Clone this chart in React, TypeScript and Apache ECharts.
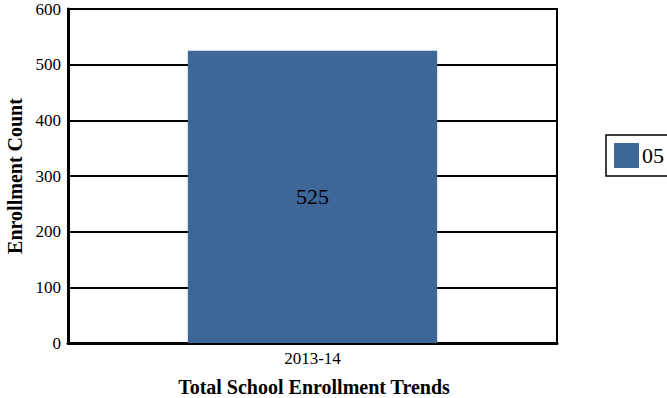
import React, { useEffect, useRef } from "react";
import * as echarts from "echarts";

const categories = ["2013-14"];
const seriesName = "05";
const values = [525];
const yTicks = { min: 0, max: 600, interval: 100 };

const FONT = "Liberation Serif";

export default function App() {
  const ref = useRef<HTMLDivElement>(null);
  useEffect(() => {
    if (!ref.current) return;
    const chart = echarts.init(ref.current, null, { renderer: "svg" });
    chart.setOption({
      animation: false,
      textStyle: { fontFamily: FONT, color: "#000" },
      title: {
        text: "Total School Enrollment Trends",
        left: 309,
        textAlign: "center",
        top: 372,
        textStyle: { fontFamily: FONT, fontSize: 20, fontWeight: "bold", color: "#000" },
      },
      legend: {
        data: [seriesName],
        left: 606,
        top: 135,
        orient: "vertical",
        icon: "rect",
        itemWidth: 25,
        itemHeight: 25,
        itemGap: 0,
        padding: [8, 30, 8, 8],
        borderColor: "#000",
        borderWidth: 1.5,
        textStyle: { fontFamily: FONT, fontSize: 22, color: "#000", padding: [0, 0, 0, -2] },
      },
      grid: {
        left: 68,
        right: 110,
        top: 9,
        bottom: 55,
        outerBoundsMode: "none",
        containLabel: false,
        show: true,
        borderColor: "#000",
        borderWidth: 2,
      },
      xAxis: {
        type: "category",
        data: categories,
        axisLine: { show: true, lineStyle: { color: "#000", width: 3 } },
        axisTick: { show: false },
        axisLabel: { fontFamily: FONT, fontSize: 17, color: "#000", margin: 7 },
      },
      yAxis: {
        type: "value",
        min: yTicks.min,
        max: yTicks.max,
        interval: yTicks.interval,
        name: "Enrollment Count",
        nameLocation: "middle",
        nameGap: 41,
        nameTextStyle: { fontFamily: FONT, fontSize: 20, fontWeight: "bold", color: "#000" },
        axisLine: { show: true, lineStyle: { color: "#000", width: 3 } },
        axisTick: { show: false },
        axisLabel: { fontFamily: FONT, fontSize: 17, color: "#000", margin: 7 },
        splitLine: { show: true, lineStyle: { color: "#000", width: 2 } },
      },
      series: [
        {
          name: seriesName,
          type: "bar",
          data: values,
          barWidth: "51%",
          itemStyle: { color: "#3D6699" },
          label: {
            show: true,
            position: "inside",
            fontFamily: FONT,
            fontSize: 22,
            color: "#000",
          },
        },
      ],
    });
    return () => chart.dispose();
  }, []);
  return <div ref={ref} style={{ width: 667, height: 398, position: "absolute", left: 0, top: 0 }} />;
}
